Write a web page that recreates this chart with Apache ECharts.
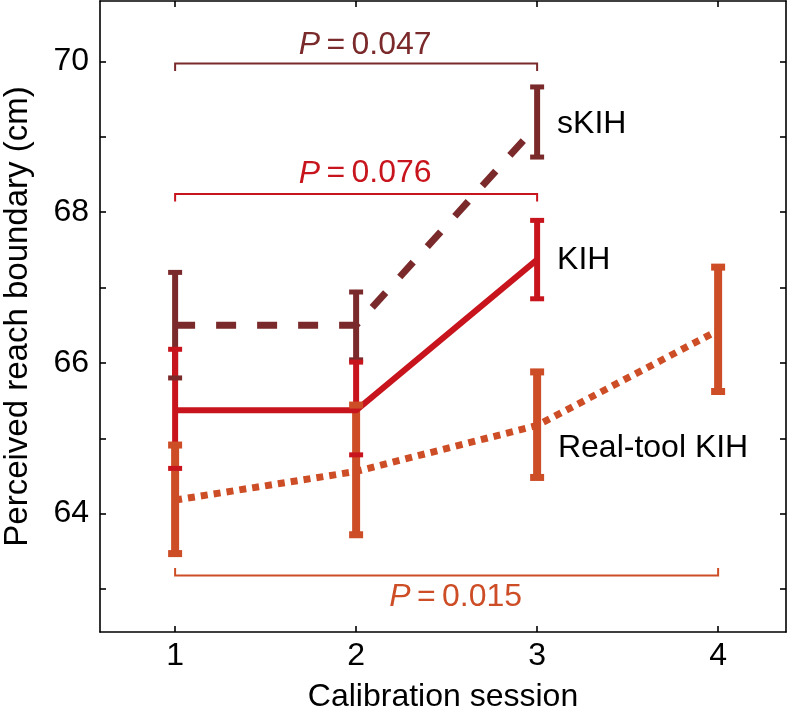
<!DOCTYPE html>
<html>
<head>
<meta charset="utf-8">
<script src="https://cdn.jsdelivr.net/npm/echarts@6/dist/echarts.min.js"></script>
<style>html,body{margin:0;padding:0;background:#fff}#c{width:788px;height:713px}</style>
</head>
<body>
<div id="c"></div>
<script>
// ---- data ----
const sessions = [1, 2, 3, 4];
const yTickValues = [63, 64, 65, 66, 67, 68, 69, 70];
const yLabelValues = [64, 66, 68, 70];

const skihX = [1, 2, 3];
const skihMean = [66.5, 66.5, 69.15];
const skihLow = [65.8, 66.04, 68.73];
const skihHigh = [67.2, 66.94, 69.66];

const kihX = [1, 2, 3];
const kihMean = [65.37, 65.37, 67.37];
const kihLow = [64.6, 64.78, 66.85];
const kihHigh = [66.18, 66.01, 67.89];

const realX = [1, 2, 3, 4];
const realMean = [64.18, 64.56, 65.17, 66.43];
const realLow = [63.47, 63.72, 64.48, 65.62];
const realHigh = [64.91, 65.44, 65.88, 67.27];

const bracketFrom = [1, 1, 1];
const bracketTo = [3, 3, 4];
const bracketLevel = [69.97, 68.24, 63.18];
const bracketEnd = [69.87, 68.14, 63.28];
const pValues = ['0.047', '0.076', '0.015'];
const pLabelX = [2.05, 2.05, 2.55];
const pLabelY = [70.21, 68.51, 62.89];

const seriesNames = ['sKIH', 'KIH', 'Real-tool KIH'];
const nameLabelX = [3.11, 3.11, 3.115];
const nameLabelY = [69.17, 67.36, 64.87];

// ---- style ----
const C_BROWN = '#7b2a2b';
const C_RED = '#c8151d';
const C_ORANGE = '#cd4d26';
const FONT = 'Liberation Sans, Arial, Helvetica, sans-serif';
const FS = 32;
const bracketColors = [C_BROWN, C_RED, C_ORANGE];

function zip3(xs, a, b) { return xs.map((x, i) => [x, a[i], b[i]]); }
function zip2(xs, a) { return xs.map((x, i) => [x, a[i]]); }

function stemSeries(data, color, width) {
  return {
    type: 'custom', z: 2, silent: true, data: data,
    renderItem: function (params, api) {
      const p1 = api.coord([api.value(0), api.value(1)]);
      const p2 = api.coord([api.value(0), api.value(2)]);
      return { type: 'line', shape: { x1: p1[0], y1: p1[1], x2: p2[0], y2: p2[1] },
        style: { stroke: color, lineWidth: width } };
    }
  };
}
function capSeries(data, color, w, h) {
  return {
    type: 'custom', z: 4, silent: true, data: data,
    renderItem: function (params, api) {
      const p1 = api.coord([api.value(0), api.value(1)]);
      const p2 = api.coord([api.value(0), api.value(2)]);
      return { type: 'group', children: [
        { type: 'rect', shape: { x: p1[0] - w / 2, y: p1[1] - h / 2, width: w, height: h }, style: { fill: color } },
        { type: 'rect', shape: { x: p2[0] - w / 2, y: p2[1] - h / 2, width: w, height: h }, style: { fill: color } }
      ] };
    }
  };
}

const chart = echarts.init(document.getElementById('c'));
const axisLineStyle = { color: '#000', width: 1.6 };

chart.setOption({
  animation: false,
  backgroundColor: '#fff',
  grid: { left: 100, right: 2, top: 1, bottom: 81, containLabel: false, outerBoundsMode: 'none' },
  xAxis: [{
    type: 'value', min: 0.585, max: 4.375, position: 'bottom',
    axisLine: { show: true, lineStyle: axisLineStyle },
    axisTick: { show: true, inside: true, length: 6, customValues: sessions, lineStyle: axisLineStyle },
    axisLabel: { customValues: sessions, fontSize: FS, color: '#000', fontFamily: FONT, margin: 8 },
    splitLine: { show: false },
    name: 'Calibration session', nameLocation: 'middle', nameGap: 49,
    nameTextStyle: { fontSize: FS, color: '#000', fontFamily: FONT }
  }, {
    type: 'value', min: 0.585, max: 4.375, position: 'top',
    axisLine: { show: true, lineStyle: axisLineStyle },
    axisTick: { show: true, inside: true, length: 6, customValues: sessions, lineStyle: axisLineStyle },
    axisLabel: { show: false }, splitLine: { show: false }
  }],
  yAxis: [{
    type: 'value', min: 62.43, max: 70.8, position: 'left',
    axisLine: { show: true, lineStyle: axisLineStyle },
    axisTick: { show: true, inside: true, length: 6, customValues: yTickValues, lineStyle: axisLineStyle },
    axisLabel: { customValues: yLabelValues, fontSize: FS, color: '#000', fontFamily: FONT, margin: 11 },
    splitLine: { show: false },
    name: 'Perceived reach boundary (cm)', nameLocation: 'middle', nameGap: 66,
    nameTextStyle: { fontSize: 33, color: '#000', fontFamily: FONT }
  }, {
    type: 'value', min: 62.43, max: 70.8, position: 'right',
    axisLine: { show: true, lineStyle: axisLineStyle },
    axisTick: { show: true, inside: true, length: 6, customValues: yTickValues, lineStyle: axisLineStyle },
    axisLabel: { show: false }, splitLine: { show: false }
  }],
  series: [
    // stems
    stemSeries(zip3(skihX, skihLow, skihHigh), C_BROWN, 6),
    stemSeries(zip3(kihX, kihLow, kihHigh), C_RED, 6),
    stemSeries(zip3(realX, realLow, realHigh), C_ORANGE, 8),
    // mean lines
    { name: 'sKIH', type: 'line', z: 3, symbol: 'none', data: zip2(skihX, skihMean),
      lineStyle: { color: C_BROWN, width: 7, type: [20, 21], cap: 'butt' } },
    { name: 'KIH', type: 'line', z: 3, symbol: 'none', data: zip2(kihX, kihMean),
      lineStyle: { color: C_RED, width: 6, type: 'solid' } },
    { name: 'Real-tool KIH', type: 'line', z: 3, symbol: 'none', data: zip2(realX, realMean),
      lineStyle: { color: C_ORANGE, width: 7, type: [7, 6], cap: 'butt' } },
    // caps
    capSeries(zip3(skihX, skihLow, skihHigh), C_BROWN, 14, 5),
    capSeries(zip3(kihX, kihLow, kihHigh), C_RED, 14, 5),
    capSeries(zip3(realX, realLow, realHigh), C_ORANGE, 14, 7),
    // significance brackets
    {
      type: 'custom', z: 5, silent: true,
      data: bracketFrom.map((f, i) => [f, bracketTo[i], bracketLevel[i], bracketEnd[i]]),
      renderItem: function (params, api) {
        const color = bracketColors[params.dataIndex];
        const a = api.coord([api.value(0), api.value(2)]);
        const b = api.coord([api.value(1), api.value(2)]);
        const ae = api.coord([api.value(0), api.value(3)]);
        const be = api.coord([api.value(1), api.value(3)]);
        return { type: 'polyline', shape: { points: [[ae[0], ae[1]], [a[0], a[1]], [b[0], b[1]], [be[0], be[1]]] },
          style: { stroke: color, lineWidth: 2, fill: null } };
      }
    },
    // P labels
    {
      type: 'custom', z: 6, silent: true,
      data: pLabelX.map((x, i) => [x, pLabelY[i]]),
      renderItem: function (params, api) {
        const i = params.dataIndex;
        const p = api.coord([api.value(0), api.value(1)]);
        const color = bracketColors[i];
        return { type: 'text', x: p[0], y: p[1], style: {
          text: '{i|P}{n|\u2009=\u2009' + pValues[i] + '}',
          align: 'center', verticalAlign: 'middle',
          rich: {
            i: { fontSize: FS, fontStyle: 'italic', fill: color, fontFamily: FONT },
            n: { fontSize: FS, fill: color, fontFamily: FONT }
          }
        } };
      }
    },
    // series name labels
    {
      type: 'custom', z: 6, silent: true,
      data: nameLabelX.map((x, i) => [x, nameLabelY[i]]),
      renderItem: function (params, api) {
        const p = api.coord([api.value(0), api.value(1)]);
        return { type: 'text', x: p[0], y: p[1], style: {
          text: seriesNames[params.dataIndex], fontSize: FS, fill: '#000', fontFamily: FONT,
          align: 'left', verticalAlign: 'middle' } };
      }
    }
  ]
});
</script>
</body>
</html>
